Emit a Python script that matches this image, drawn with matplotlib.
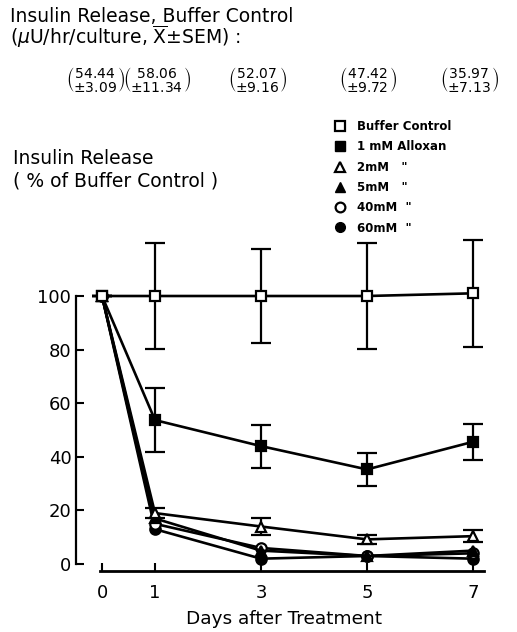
import matplotlib
matplotlib.use('Agg')
import matplotlib.pyplot as plt
from matplotlib.lines import Line2D
from matplotlib.transforms import blended_transform_factory, offset_copy

plt.rcParams['font.family'] = ['DejaVu Sans']
plt.rcParams['mathtext.fontset'] = 'dejavusans'

# ---------------- data ----------------
days = [0, 1, 3, 5, 7]
buffer_control = [100, 100, 100, 100, 101]
buffer_err = [0, 19.7, 17.5, 19.7, 20]
alloxan_1mM = [100, 53.7, 44, 35.3, 45.6]
alloxan_1mM_err = [0, 12, 8, 6, 6.7]
alloxan_2mM = [100, 19, 14, 9.2, 10.4]
alloxan_2mM_err = [0, 2, 3, 1.6, 2.3]
alloxan_5mM = [100, 17, 5, 3, 5]
alloxan_40mM = [100, 15, 6, 3, 4]
alloxan_60mM = [100, 13, 2, 3, 2]

control_means = ['54.44', '58.06', '52.07', '47.42', '35.97']
control_sems = ['3.09', '11.34', '9.16', '9.72', '7.13']
group_shift_px = [-6, 2, -3, 1, -3]

legend_labels = ['Buffer Control', '1 mM Alloxan', '2mM   "', '5mM   "',
                 '40mM  "', '60mM  "']
y_ticks = [0, 20, 40, 60, 80, 100]
x_ticks = [0, 1, 3, 5, 7]

# ---------------- figure ----------------
W, H = 517, 632
fig = plt.figure(figsize=(W / 100, H / 100), dpi=100)
ax = fig.add_axes([75.5 / W, 61 / H, 413.4 / W, 342 / H])
ax.set_xlim(-0.5, 7.3)
ax.set_ylim(-2.6, 125)

lw = 1.9
ms = 7.5
common = dict(color='black', linewidth=lw, capsize=7, capthick=1.6,
              elinewidth=1.6, markeredgewidth=1.6, markersize=ms)

ax.errorbar(days, alloxan_60mM, marker='o', markerfacecolor='black', zorder=3, **common)
ax.errorbar(days, alloxan_40mM, marker='o', markerfacecolor='white', zorder=3, **common)
ax.errorbar(days, alloxan_5mM, marker='^', markerfacecolor='black', zorder=3, **common)
ax.errorbar(days, alloxan_2mM, yerr=alloxan_2mM_err, marker='^',
            markerfacecolor='white', zorder=4, **common)
ax.errorbar(days, alloxan_1mM, yerr=alloxan_1mM_err, marker='s',
            markerfacecolor='black', zorder=5, **common)
ax.errorbar(days, buffer_control, yerr=buffer_err, marker='s',
            markerfacecolor='white', zorder=6, **common)

for s in ['top', 'right']:
    ax.spines[s].set_visible(False)
ax.spines['left'].set_bounds(0, 100)
ax.spines['left'].set_linewidth(1.6)
ax.spines['bottom'].set_bounds(-0.03, 7.2)
ax.spines['bottom'].set_linewidth(2.0)

ax.set_yticks(y_ticks)
ax.set_xticks(x_ticks)
ax.set_xticklabels([str(d) for d in x_ticks])
ax.tick_params(axis='y', direction='in', length=6, width=1.5, labelsize=13, pad=3)
ax.tick_params(axis='x', direction='in', length=6, width=1.5, labelsize=13, pad=9)

fig.text(284 / W, 1 - 619 / H, 'Days after Treatment', ha='center', va='center',
         fontsize=13.3)

# ---------------- texts ----------------
fig.text(10 / W, 1 - 16 / H, 'Insulin Release, Buffer Control', ha='left',
         va='center', fontsize=13.5)
fig.text(10 / W, 1 - 37 / H,
         r'($\mu$U/hr/culture, $\overline{\mathrm{X}}$' + '\u00b1SEM) :',
         ha='left', va='center', fontsize=13.5)
fig.text(13 / W, 1 - 158 / H, 'Insulin Release', ha='left', va='center', fontsize=13.5)
fig.text(13 / W, 1 - 181 / H, '( % of Buffer Control )', ha='left', va='center',
         fontsize=13.5)

trans = blended_transform_factory(ax.transData, fig.transFigure)
for d, m, s, sh in zip(days, control_means, control_sems, group_shift_px):
    tr = offset_copy(trans, fig=fig, x=sh * 0.72, y=0, units='points')
    label = r'$\genfrac{(}{)}{0}{0}{%s}{\pm %s}$' % (m, s)
    ax.text(d, 1 - 79 / H, label, transform=tr, ha='center', va='center',
            fontsize=10, clip_on=False)

# ---------------- legend ----------------
handles = [
    Line2D([], [], linestyle='none', marker='s', markerfacecolor='white',
           markeredgecolor='black', markeredgewidth=1.6, markersize=7),
    Line2D([], [], linestyle='none', marker='s', markerfacecolor='black',
           markeredgecolor='black', markersize=7),
    Line2D([], [], linestyle='none', marker='^', markerfacecolor='white',
           markeredgecolor='black', markeredgewidth=1.6, markersize=7),
    Line2D([], [], linestyle='none', marker='^', markerfacecolor='black',
           markeredgecolor='black', markersize=7),
    Line2D([], [], linestyle='none', marker='o', markerfacecolor='white',
           markeredgecolor='black', markeredgewidth=1.6, markersize=7),
    Line2D([], [], linestyle='none', marker='o', markerfacecolor='black',
           markeredgecolor='black', markersize=7),
]
fig.legend(handles, legend_labels, loc='upper left',
           bbox_to_anchor=(335 / W, 1 - 120 / H), frameon=False,
           prop={'weight': 'bold', 'size': 8.5}, handlelength=0.8,
           handletextpad=1.1, labelspacing=0.62, borderpad=0, borderaxespad=0)

fig.savefig('out.png', dpi=100)
